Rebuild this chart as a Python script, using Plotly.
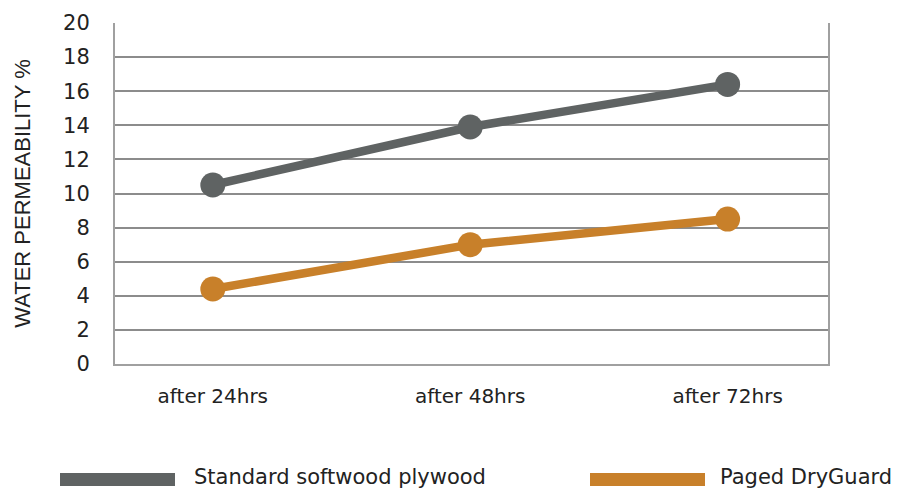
import plotly.graph_objects as go

categories = ["after 24hrs", "after 48hrs", "after 72hrs"]
series_names = ["Standard softwood plywood", "Paged DryGuard"]
standard_values = [10.5, 13.9, 16.4]
dryguard_values = [4.4, 7.0, 8.5]
colors = ["#5f6363", "#c8802a"]
y_ticks = list(range(0, 21, 2))

fig = go.Figure()
for name, vals, col in zip(series_names, [standard_values, dryguard_values], colors):
    fig.add_trace(go.Scatter(
        x=categories, y=vals, name=name, mode="lines+markers",
        line=dict(color=col, width=8.5),
        marker=dict(color=col, size=25),
        showlegend=False,
    ))

FONT = "DejaVu Sans"
TXT = "#222222"
fig.update_layout(
    width=898, height=491,
    margin=dict(l=115, r=70, t=23, b=127),
    paper_bgcolor="white", plot_bgcolor="white",
    font=dict(family=FONT, color=TXT),
    xaxis=dict(
        type="category", range=[-0.38, 2.39],
        showgrid=False, showline=True, linecolor="#a0a0a0", linewidth=2,
        ticks="", tickfont=dict(size=20, family=FONT, color=TXT),
        ticklabelstandoff=13,
    ),
    yaxis=dict(
        range=[0, 20], tickvals=y_ticks,
        showgrid=True, gridcolor="#8c8c8c", gridwidth=1.5,
        showline=True, linecolor="#a0a0a0", linewidth=2, mirror=True,
        zeroline=False, ticks="",
        tickfont=dict(size=21, family=FONT, color=TXT),
        ticklabelstandoff=19,
        title=dict(text="WATER PERMEABILITY %",
                   font=dict(size=22, family="Liberation Sans", color=TXT), standoff=26),
    ),
)

# legend drawn below the plot
legend_x = [(60, 175, 192), (590, 705, 718)]
for (x0, x1, xt), name, col in zip(legend_x, series_names, colors):
    fig.add_shape(type="rect", xref="paper", yref="paper",
                  x0=(x0 - 115) / 713, x1=(x1 - 115) / 713,
                  y0=(364 - 486) / 341, y1=(364 - 473) / 341,
                  fillcolor=col, line=dict(width=0))
    fig.add_annotation(text=name, xref="paper", yref="paper",
                       x=(xt - 115) / 713, y=(364 - 477) / 341,
                       xanchor="left", yanchor="middle", showarrow=False,
                       font=dict(size=21, family=FONT, color=TXT))

fig.write_html("out.html", config={"displayModeBar": False},
               post_script="document.body.style.margin='0';")
